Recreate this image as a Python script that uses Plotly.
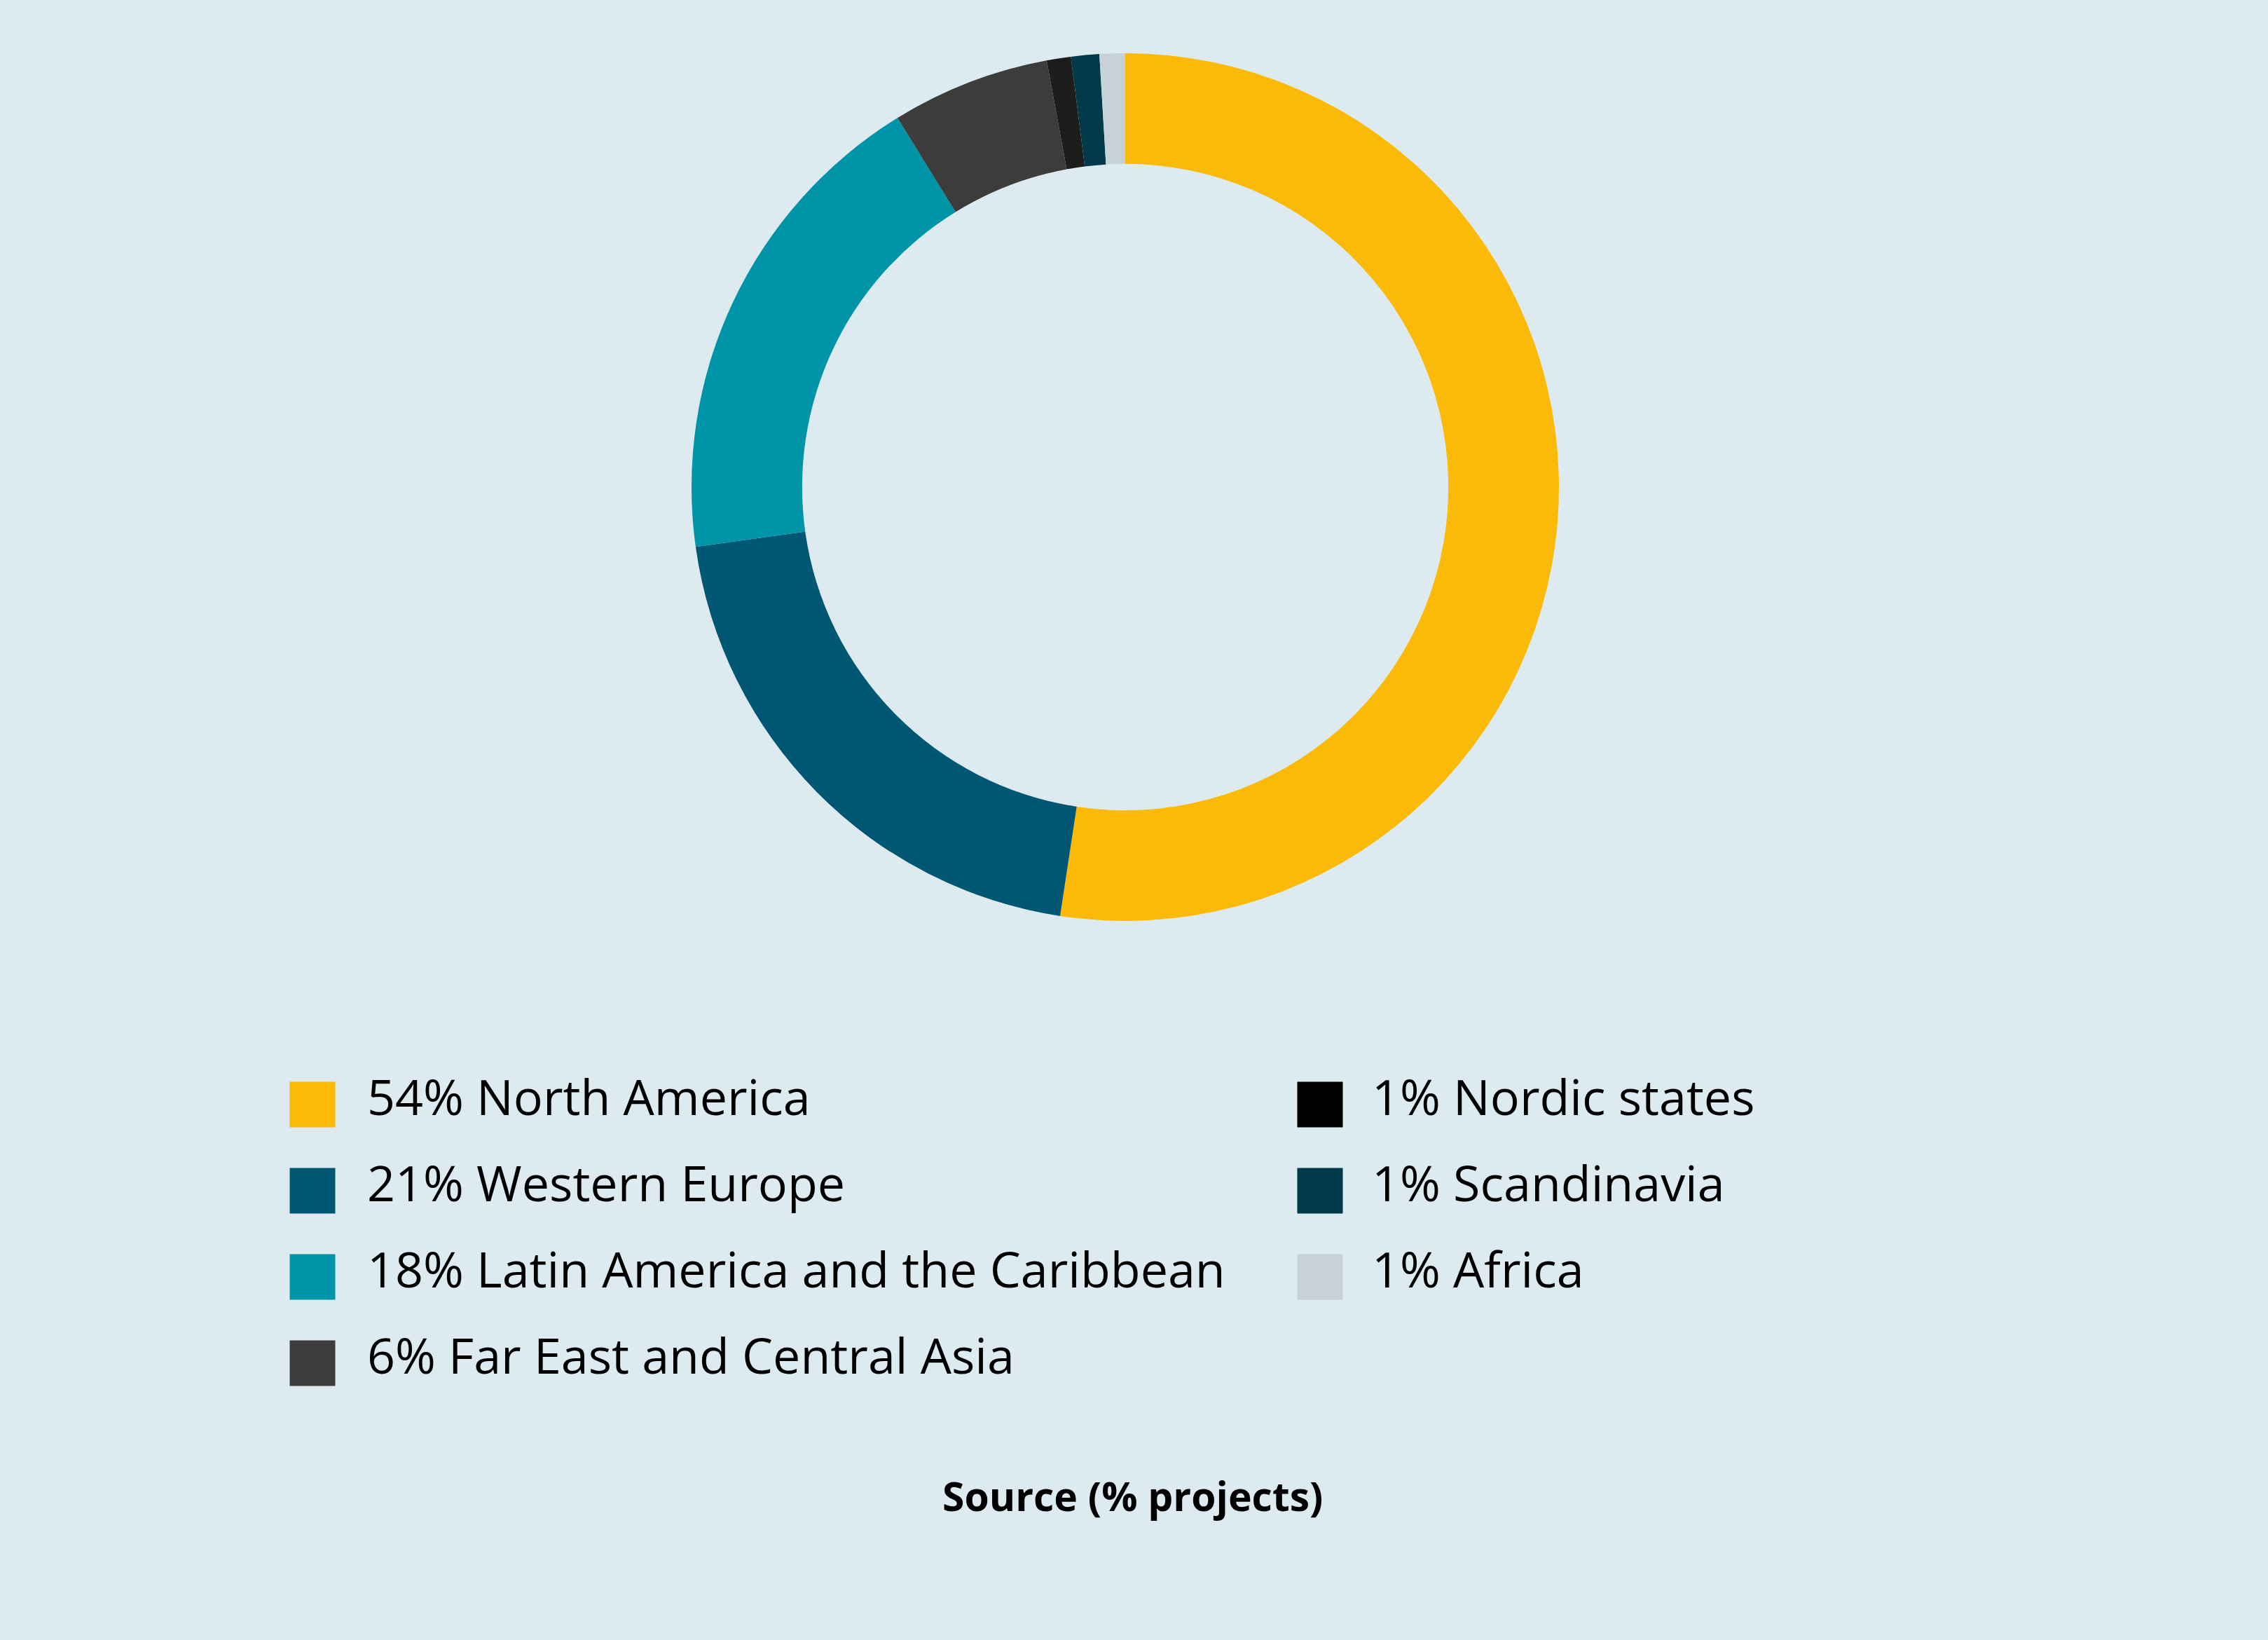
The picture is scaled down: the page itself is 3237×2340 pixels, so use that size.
import plotly.graph_objects as go

# ---- data ----
regions = ["North America", "Western Europe", "Latin America and the Caribbean",
           "Far East and Central Asia", "Nordic states", "Scandinavia", "Africa"]
pct_labels = ["54%", "21%", "18%", "6%", "1%", "1%", "1%"]
slice_values = [52.4, 20.4, 18.4, 5.9, 0.9, 1.05, 0.95]
slice_colors = ["#FBBA07", "#005773", "#0094A8", "#3C3C3B", "#1D1D1B", "#003A4B", "#C6D2D8"]
legend_colors = ["#FBBA07", "#005773", "#0094A8", "#3C3C3B", "#000000", "#003A4B", "#C6D2D8"]
caption = "Source (% projects)"

W, H = 3237, 2340
BG = "#DDEAF0"
FONT = "Open Sans"

# pie geometry (pixels)
cx, cy, r = 1606, 695, 619

fig = go.Figure()
fig.add_trace(go.Pie(
    values=slice_values, labels=regions,
    marker=dict(colors=slice_colors, line=dict(width=0)),
    hole=0.745, sort=False, direction="clockwise", rotation=0,
    textinfo="none", hoverinfo="label+percent", showlegend=False,
    domain=dict(x=[(cx - r) / W, (cx + r) / W], y=[(H - cy - r) / H, (H - cy + r) / H]),
))

# legend layout (two columns)
col_sq_x = [446, 1884]
col_tx_x = [524, 1958]
row_y0, row_dy = 1576, 123
rows_per_col = [4, 3]

sq_x, sq_y, tx_x, tx_y, texts = [], [], [], [], []
i = 0
for c, n in enumerate(rows_per_col):
    for k in range(n):
        y = row_y0 + k * row_dy
        sq_x.append(col_sq_x[c]); sq_y.append(y)
        tx_x.append(col_tx_x[c]); tx_y.append(y - 3)
        texts.append(f"{pct_labels[i]} {regions[i]}")
        i += 1

fig.add_trace(go.Scatter(
    x=sq_x, y=sq_y, mode="markers",
    marker=dict(symbol="square", size=65, color=legend_colors, line=dict(width=0)),
    hoverinfo="skip", showlegend=False,
))
fig.add_trace(go.Scatter(
    x=tx_x, y=tx_y, mode="text", text=texts, textposition="middle right",
    textfont=dict(family=FONT, size=70, color="#000000"),
    hoverinfo="skip", showlegend=False,
))

fig.add_annotation(
    x=1616, y=2134, xref="x", yref="y", text=f"<b>{caption}</b>", showarrow=False,
    xanchor="center", yanchor="middle",
    font=dict(family=FONT, size=57, color="#000000"),
)

fig.update_layout(
    width=W, height=H, paper_bgcolor=BG, plot_bgcolor=BG,
    margin=dict(l=0, r=0, t=0, b=0),
    xaxis=dict(range=[0, W], visible=False, fixedrange=True),
    yaxis=dict(range=[H, 0], visible=False, fixedrange=True),
    showlegend=False,
)

fig.write_html(
    "out.html",
    config={"displayModeBar": False},
    post_script="document.body.style.margin='0';document.body.style.overflow='hidden';",
)
